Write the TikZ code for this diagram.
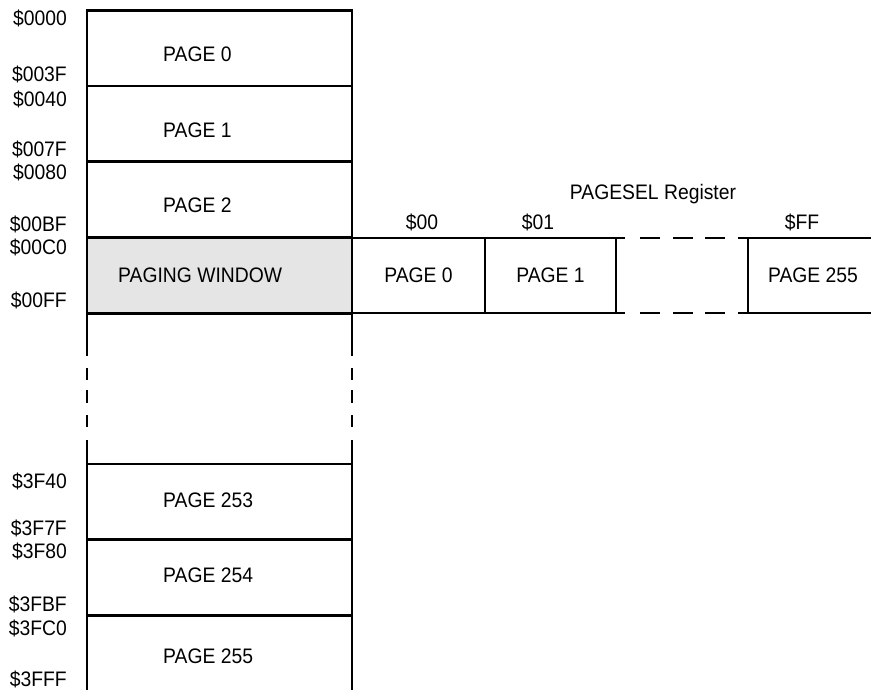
\documentclass[tikz,border=0pt]{standalone}
\usepackage{fontspec}
\setmainfont[FakeStretch=0.92]{Liberation Sans}
\usetikzlibrary{positioning}

\begin{document}
\begin{tikzpicture}[
    x=1pt, y=-1pt,
    txt/.style={font=\fontsize{21}{24}\selectfont, inner sep=0pt, text height=15pt, text depth=0pt},
    cell/.style={rectangle, draw, line width=2.5pt, minimum width=265pt, minimum height=75.5pt, inner sep=0pt, outer sep=0pt},
    regcell/.style={rectangle, draw, line width=2.5pt, minimum height=75pt, inner sep=0pt, outer sep=0pt, txt},
    addr/.style={txt, anchor=east},
    pagelbl/.style={txt, anchor=west},
    edge/.style={line width=2.5pt}
]
\useasboundingbox (0,0) rectangle (871,690);

% memory map column
\node[cell] (p0) at (219.5, 48.5) {};
\node[cell] (p1) at (219.5, 124) {};
\node[cell] (p2) at (219.5, 200) {};
\node[cell, fill=black!10] (win) at (219.5, 275.5) {};
\node[cell] (p253) at (219.5, 501.5) {};
\node[cell] (p254) at (219.5, 577.5) {};
\coordinate (botw) at (87, 690);
\coordinate (bote) at (352, 690);

\draw[edge, dash pattern=on 43pt off 12pt on 12pt off 10pt on 13pt off 12pt on 12pt off 13pt on 40pt] (win.south west) -- (p253.north west);
\draw[edge, dash pattern=on 43pt off 12pt on 12pt off 10pt on 13pt off 12pt on 12pt off 13pt on 40pt] (win.south east) -- (p253.north east);
\draw[edge] (p254.south west) -- (botw);
\draw[edge] (p254.south east) -- (bote);

\node[pagelbl] (t0) at (163, 54) {PAGE 0};
\node[pagelbl] (t1) at (163, 130) {PAGE 1};
\node[pagelbl] (t2) at (163, 205.5) {PAGE 2};
\node[pagelbl] (twin) at (118, 275) {PAGING WINDOW};
\node[pagelbl] (t253) at (163, 500) {PAGE 253};
\node[pagelbl] (t254) at (163, 575) {PAGE 254};
\node[pagelbl] (t255) at (163, 656) {PAGE 255};

% addresses
\node[addr] (a0000) at (67, 18) {\$0000};
\node[addr] (a003f) at (67, 74) {\$003F};
\node[addr] (a0040) at (67, 99) {\$0040};
\node[addr] (a007f) at (67, 149) {\$007F};
\node[addr] (a0080) at (67, 172) {\$0080};
\node[addr] (a00bf) at (67, 224) {\$00BF};
\node[addr] (a00c0) at (67, 247) {\$00C0};
\node[addr] (a00ff) at (67, 300) {\$00FF};
\node[addr] (a3f40) at (67, 481) {\$3F40};
\node[addr] (a3f7f) at (67, 528) {\$3F7F};
\node[addr] (a3f80) at (67, 551) {\$3F80};
\node[addr] (a3fbf) at (67, 604) {\$3FBF};
\node[addr] (a3fc0) at (67, 628) {\$3FC0};
\node[addr] (a3fff) at (67, 679) {\$3FFF};

% PAGESEL register
\node[regcell, minimum width=133pt] (r0) at (418.5, 275.5) {PAGE 0};
\node[regcell, minimum width=131pt] (r1) at (550.5, 275.5) {PAGE 1};
\coordinate (ffnw) at (748, 238);
\coordinate (ffsw) at (748, 313);
\coordinate (ffne) at (871, 238);
\coordinate (ffse) at (871, 313);
\draw[edge] (ffne) -- (ffnw) -- (ffsw) -- (ffse);
\node[txt] (rff) at (813, 275.5) {PAGE 255};
\draw[edge, dash pattern=on 9pt off 15pt on 20pt off 13pt on 20pt off 12pt on 20pt off 13pt on 12pt] (r1.north east) -- (ffnw);
\draw[edge, dash pattern=on 9pt off 15pt on 20pt off 13pt on 20pt off 12pt on 20pt off 13pt on 12pt] (r1.south east) -- (ffsw);

\node[txt] (reg) at (653, 192) {PAGESEL Register};
\node[txt] (s00) at (422, 222) {\$00};
\node[txt] (s01) at (538, 222) {\$01};
\node[txt] (sff) at (802, 222) {\$FF};
\end{tikzpicture}
\end{document}
